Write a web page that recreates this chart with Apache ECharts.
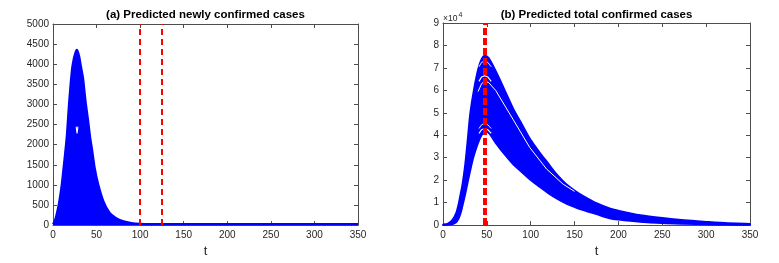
<!DOCTYPE html>
<html>
<head>
<meta charset="utf-8">
<script src="https://cdn.jsdelivr.net/npm/echarts@6/dist/echarts.min.js"></script>
<style>
html,body{margin:0;padding:0;background:#fff;}
#c{width:779px;height:263px;}
</style>
</head>
<body>
<div id="c"></div>
<script>
// ---------- Data ----------
// (a) Predicted newly confirmed cases: upper envelope of the ensemble
var tA = [0,2,4,7,10,12,14,16,18,20,22,24,26,27,28,30,32,34.5,37.5,40,42.5,45,48,52,58,65,72,80,90,100,110,150,200,250,300,350];
var upperA = [20,100,250,560,1000,1400,1800,2250,2900,3450,3900,4150,4300,4360,4340,4200,3950,3650,3050,2650,2200,1850,1400,1000,580,300,180,100,50,30,25,25,25,25,25,25];
// small white gap inside the ensemble (a)
var gapA1T = [26.6,27.6,28.6];
var gapA1V = [2450,2280,2450];
var dashA = [100,125];

// (b) Predicted total confirmed cases: upper and lower envelopes
var tB = [0,5,10,15,18,20,22,25,28,31,35,40,44,47.5,52,61,70,80,90,100,110,120,130,140,150,160,175,190,200,225,250,275,300,325,350];
var upperB = [300,600,2000,5500,10000,14000,18000,26500,38000,50000,60000,69500,74000,75500,74500,68000,60500,52000,45000,38000,32500,27500,22500,18500,15500,13000,9800,7500,6500,4500,3200,2200,1500,900,600];
var lowerB = [0,100,300,1200,3000,5000,8000,13000,18500,24000,30500,36500,40000,41600,41000,36000,31500,27000,23500,20000,17000,14200,11700,9600,8000,6600,4800,3000,2400,1400,800,500,300,150,50];
// white gaps inside ensemble (b)
var gapBMainT = [40,44,47.5,52,60,70,80,99,118,137,150];
var gapBMainV = [59500,63000,64000,63500,60000,53500,47000,34500,25000,18200,15000];
var arcT = [41,44,47.5,51,55];
var arcB1 = [70500,72500,73000,72500,70500];
var arcB2 = [64000,66000,66500,66000,64000];
var arcB3 = [43000,44700,45200,44700,43000];
var arcB4 = [40800,42500,43000,42500,40800];
var dashB = [47.5];

var xTicks = {min:0, max:350, interval:50};
var yTicksA = {min:0, max:5000, interval:500};
var yTicksB = {min:0, max:90000, interval:10000};

// ---------- helpers ----------
function pairs(t, v){ return t.map(function(x,i){ return [x, v[i]]; }); }
var BLUE = '#0000ff';
var AX = '#4d4d4d';
var TXT = '#262626';
var FONT = '"Liberation Sans", Arial, Helvetica, sans-serif';

function xAx(grid, pos, labels){
  return {
    type:'value', gridIndex:grid, position:pos, min:xTicks.min, max:xTicks.max, interval:xTicks.interval,
    axisLine:{show:true, onZero:false, lineStyle:{color:AX, width:1}},
    axisTick:{show:true, inside:true, length:4, lineStyle:{color:AX}},
    axisLabel:{show:labels, color:TXT, fontSize:10, fontFamily:FONT, margin:5},
    splitLine:{show:false},
    name: labels ? 't' : '', nameLocation:'middle', nameGap: grid===0 ? 18 : 16,
    nameTextStyle:{color:TXT, fontSize:13, fontFamily:FONT}
  };
}
function yAx(grid, pos, labels, tk, fmt){
  return {
    type:'value', gridIndex:grid, position:pos, min:tk.min, max:tk.max, interval:tk.interval,
    axisLine:{show:true, onZero:false, lineStyle:{color:AX, width:1}},
    axisTick:{show:true, inside:true, length:4, lineStyle:{color:AX}},
    axisLabel:{show:labels, color:TXT, fontSize:10, fontFamily:FONT, margin:4, formatter:fmt || function(v){return String(v);}},
    splitLine:{show:false}
  };
}
function whiteLine(xi, yi, t, v, w){
  return {type:'line', xAxisIndex:xi, yAxisIndex:yi, data:pairs(t,v), showSymbol:false, silent:true,
    lineStyle:{color:'#ffffff', width:w}, z:4};
}

// band (b): polygon between upper and lower envelope, positioned by the axes
var bandSeries = {
  type:'custom', xAxisIndex:2, yAxisIndex:2, silent:true, z:3,
  data:[[tB[0], lowerB[0]]],
  renderItem:function(params, api){
    var pts = [];
    for (var i=0;i<tB.length;i++) pts.push(api.coord([tB[i], upperB[i]]));
    for (var j=tB.length-1;j>=0;j--) pts.push(api.coord([tB[j], lowerB[j]]));
    return {type:'polygon', shape:{points:pts, smooth:0.3}, style:{fill:BLUE, stroke:BLUE, lineWidth:1.6}};
  }
};

var option = {
  animation:false,
  backgroundColor:'#ffffff',
  grid:[
    {left:53, right:421, top:24, bottom:32},
    {left:443, right:29, top:23, bottom:35}
  ],
  xAxis:[ xAx(0,'bottom',true), xAx(0,'top',false), xAx(1,'bottom',true), xAx(1,'top',false) ],
  yAxis:[ yAx(0,'left',true,yTicksA), yAx(0,'right',false,yTicksA),
          yAx(1,'left',true,yTicksB,function(v){return String(v/10000);}), yAx(1,'right',false,yTicksB) ],
  series:[
    {type:'line', xAxisIndex:0, yAxisIndex:0, data:pairs(tA,upperA), showSymbol:false, silent:true, smooth:0.2,
      lineStyle:{color:BLUE, width:2.2}, areaStyle:{color:BLUE, opacity:1}, z:3},
    whiteLine(0,0,gapA1T,gapA1V,1.1),
    {type:'line', xAxisIndex:0, yAxisIndex:0, data:[], showSymbol:false, z:6,
      markLine:{silent:true, symbol:'none', label:{show:false},
        lineStyle:{color:'#ff0000', width:2, type:[6,4]},
        data: dashA.map(function(x){ return {xAxis:x}; })}},

    bandSeries,
    {type:'line', xAxisIndex:2, yAxisIndex:2, data:pairs(tB,gapBMainV.map(function(){return null;})), showSymbol:false},
    whiteLine(2,2,gapBMainT,gapBMainV,1),
    whiteLine(2,2,arcT,arcB1,0.9),
    whiteLine(2,2,arcT,arcB2,1.1),
    whiteLine(2,2,arcT,arcB3,0.9),
    whiteLine(2,2,arcT,arcB4,1.1),
    {type:'line', xAxisIndex:2, yAxisIndex:2, data:[], showSymbol:false, z:6,
      markLine:{silent:true, symbol:'none', label:{show:false},
        lineStyle:{color:'#ff0000', width:4, type:[7,3]},
        data: dashB.map(function(x){ return {xAxis:x}; })}}
  ],
  graphic:[
    {type:'text', x:205.5, y:14.5, style:{text:'(a) Predicted newly confirmed cases', fill:'#000', font:'bold 11.5px '+FONT, textAlign:'center', textVerticalAlign:'middle'}},
    {type:'text', x:596.5, y:14.5, style:{text:'(b) Predicted total confirmed cases', fill:'#000', font:'bold 11.5px '+FONT, textAlign:'center', textVerticalAlign:'middle'}},
    {type:'text', x:443, y:19, style:{text:'×10', fill:TXT, font:'8.5px '+FONT, textAlign:'left', textVerticalAlign:'middle'}},
    {type:'text', x:458.5, y:15.5, style:{text:'4', fill:TXT, font:'7px '+FONT, textAlign:'left', textVerticalAlign:'middle'}}
  ]
};
var chart = echarts.init(document.getElementById('c'), null, {renderer:'canvas'});
chart.setOption(option);
</script>
</body>
</html>
